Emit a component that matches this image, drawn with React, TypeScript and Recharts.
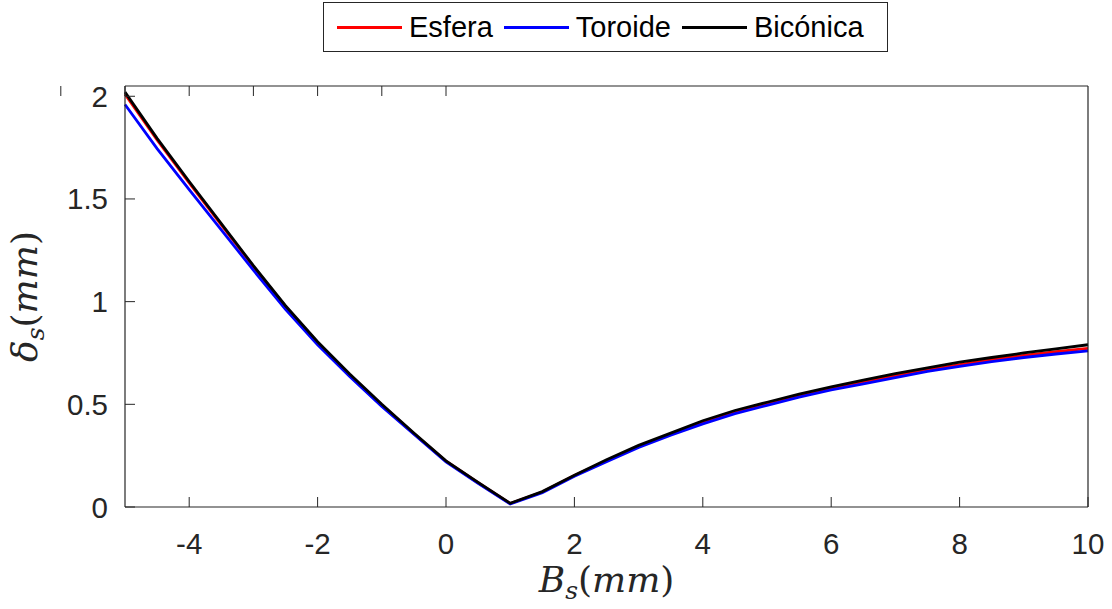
import { LineChart, Line, XAxis, YAxis } from "recharts";

const BS = [-5, -4.5, -4, -3.5, -3, -2.5, -2, -1.5, -1, -0.5, 0, 0.5, 1, 1.5, 2, 2.5, 3, 3.5, 4, 4.5, 5, 5.5, 6, 6.5, 7, 7.5, 8, 8.5, 9, 9.5, 10];

const ESFERA = [2.01, 1.788, 1.578, 1.374, 1.171, 0.976, 0.8, 0.643, 0.496, 0.357, 0.223, 0.118, 0.017, 0.073, 0.153, 0.225, 0.295, 0.355, 0.413, 0.462, 0.503, 0.542, 0.577, 0.61, 0.64, 0.668, 0.693, 0.717, 0.738, 0.756, 0.772];
const TOROIDE = [1.96, 1.745, 1.545, 1.35, 1.153, 0.963, 0.79, 0.636, 0.49, 0.354, 0.22, 0.115, 0.015, 0.07, 0.15, 0.22, 0.29, 0.35, 0.405, 0.455, 0.495, 0.535, 0.57, 0.6, 0.63, 0.66, 0.685, 0.708, 0.728, 0.745, 0.76];
const BICONICA = [2.02, 1.795, 1.585, 1.38, 1.175, 0.98, 0.805, 0.648, 0.5, 0.36, 0.225, 0.12, 0.018, 0.075, 0.155, 0.23, 0.3, 0.36, 0.42, 0.47, 0.51, 0.55, 0.585, 0.618, 0.65, 0.678, 0.705, 0.728, 0.75, 0.77, 0.79];

const X_TICKS = [-4, -2, 0, 2, 4, 6, 8, 10];
const Y_TICKS = [0, 0.5, 1, 1.5, 2];

const SERIES = [
  { key: "esfera", name: "Esfera", color: "#ff0000" },
  { key: "toroide", name: "Toroide", color: "#0000ff" },
  { key: "biconica", name: "Bicónica", color: "#000000" },
];

const data = BS.map((x, i) => ({ x, esfera: ESFERA[i], toroide: TOROIDE[i], biconica: BICONICA[i] }));

const AXIS = "#262626";
const SANS = "'Liberation Sans', Arial, sans-serif";
const SERIF = "'DejaVu Serif', serif";
const TICK_LEN = 10;

const BottomTick = ({ x, y, payload }: any) => (
  <g>
    <line x1={x} x2={x} y1={y} y2={y - TICK_LEN} stroke={AXIS} strokeWidth={1} />
    <text x={x} y={y + 47} textAnchor="middle" fontSize={29.5} fontFamily={SANS} fill={AXIS}>
      {payload.value}
    </text>
  </g>
);

const TopTick = ({ x, y }: any) => <line x1={x} x2={x} y1={y} y2={y + TICK_LEN} stroke={AXIS} strokeWidth={1} />;

const LeftTick = ({ x, y, payload }: any) => (
  <g>
    <line x1={x} x2={x + TICK_LEN} y1={y} y2={y} stroke={AXIS} strokeWidth={1} />
    <text x={x - 17} y={y + 10.5} textAnchor="end" fontSize={29.5} fontFamily={SANS} fill={AXIS}>
      {payload.value}
    </text>
  </g>
);

const RightTick = ({ x, y }: any) => <line x1={x} x2={x - TICK_LEN} y1={y} y2={y} stroke={AXIS} strokeWidth={1} />;

const XTitle = ({ viewBox }: any) => {
  const cx = viewBox.x + viewBox.width / 2;
  return (
    <text x={cx} y={viewBox.y + 85} textAnchor="middle" fontSize={36} fontFamily={SERIF} fontStyle="italic" fill={AXIS}>
      <tspan>B</tspan>
      <tspan dy={7} fontSize={25}>s</tspan>
      <tspan dy={-7} fontStyle="normal">(</tspan>
      <tspan>mm</tspan>
      <tspan fontStyle="normal">)</tspan>
    </text>
  );
};

const YTitle = ({ viewBox }: any) => {
  const cy = viewBox.y + viewBox.height / 2;
  const x = 37;
  return (
    <text x={x} y={cy} transform={`rotate(-90 ${x} ${cy})`} textAnchor="middle" fontSize={36} fontFamily={SERIF} fontStyle="italic" fill={AXIS}>
      <tspan>δ</tspan>
      <tspan dy={7} fontSize={25}>s</tspan>
      <tspan dy={-7} fontStyle="normal">(</tspan>
      <tspan>mm</tspan>
      <tspan fontStyle="normal">)</tspan>
    </text>
  );
};

function LegendBox() {
  return (
    <div
      style={{
        position: "absolute",
        left: 323,
        top: 2,
        width: 565,
        height: 50,
        border: "1px solid #262626",
        background: "#fff",
        display: "flex",
        alignItems: "center",
        boxSizing: "border-box",
        paddingLeft: 13,
        fontFamily: SANS,
        fontSize: 29,
        color: "#000",
      }}
    >
      {SERIES.map((s) => (
        <div key={s.key} style={{ display: "flex", alignItems: "center", marginRight: 11 }}>
          <span style={{ display: "inline-block", width: 65, height: 3, background: s.color, marginRight: 7 }} />
          <span>{s.name}</span>
        </div>
      ))}
    </div>
  );
}

export default function App() {
  return (
    <div style={{ position: "absolute", left: 0, top: 0, width: 1112, height: 609, background: "#fff" }}>
      <LineChart width={1112} height={609} data={data} margin={{ top: 85, right: 23, bottom: 101, left: 124 }}>
        <XAxis
          dataKey="x"
          type="number"
          domain={[-5, 10]}
          ticks={X_TICKS}
          interval={0}
          height={1}
          tickSize={0}
          tickMargin={0}
          tickLine={false}
          tick={<BottomTick />}
          axisLine={{ stroke: AXIS, strokeWidth: 1.2 }}
          label={{ content: <XTitle /> }}
        />
        <XAxis
          xAxisId="top"
          orientation="top"
          type="number"
          domain={[-5, 10]}
          ticks={X_TICKS}
          interval={0}
          height={1}
          tickSize={0}
          tickMargin={0}
          tickLine={false}
          tick={<TopTick />}
          axisLine={{ stroke: AXIS, strokeWidth: 1.2 }}
        />
        <YAxis
          type="number"
          domain={[0, 2.05]}
          ticks={Y_TICKS}
          interval={0}
          width={1}
          tickSize={0}
          tickMargin={0}
          tickLine={false}
          tick={<LeftTick />}
          axisLine={{ stroke: AXIS, strokeWidth: 1.2 }}
          label={{ content: <YTitle /> }}
        />
        <YAxis
          yAxisId="right"
          orientation="right"
          type="number"
          domain={[0, 2.05]}
          ticks={Y_TICKS}
          interval={0}
          width={1}
          tickSize={0}
          tickMargin={0}
          tickLine={false}
          tick={<RightTick />}
          axisLine={{ stroke: AXIS, strokeWidth: 1.2 }}
        />
        {SERIES.map((s) => (
          <Line
            key={s.key}
            type="linear"
            dataKey={s.key}
            name={s.name}
            stroke={s.color}
            strokeWidth={2.8}
            dot={false}
            isAnimationActive={false}
          />
        ))}
      </LineChart>
      <LegendBox />
    </div>
  );
}
